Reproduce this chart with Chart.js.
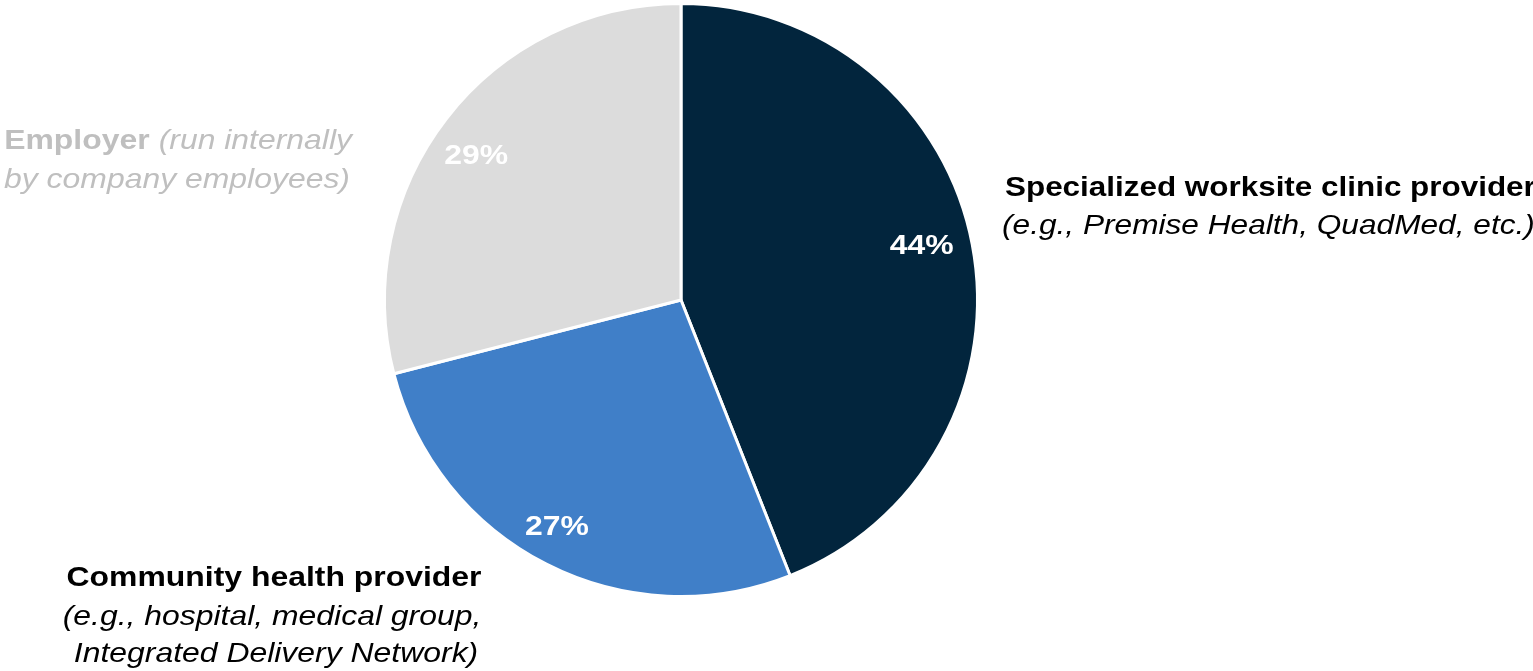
<!DOCTYPE html>
<html>
<head>
<meta charset="utf-8">
<script src="https://cdn.jsdelivr.net/npm/chart.js@4/dist/chart.umd.min.js"></script>
<style>
  html, body { margin: 0; padding: 0; background: #fff; }
  #wrap { width: 1533px; height: 671px; position: relative; }
</style>
</head>
<body>
<div id="wrap"><canvas id="grafico" width="1533" height="671"></canvas></div>
<script>
const categorias = ["Specialized worksite clinic provider", "Community health provider", "Employer"];
const valores = [44, 27, 29];
const colores = ["#02253D", "#407FC8", "#DCDCDC"];

// outside text for each slice: bold title + italic detail lines
const titulos = ["Specialized worksite clinic provider", "Community health provider", "Employer"];
const detalles = [
    ["(e.g., Premise Health, QuadMed, etc.)"],
    ["(e.g., hospital, medical group,", "Integrated Delivery Network)"],
    ["(run internally", "by company employees)"]
];

const FUENTE = '"Liberation Sans", Arial, sans-serif';
const ESTIRA = 1.14; // text is a bit wider than the plain font

function texto(ctx, t, x, y, escala = ESTIRA) {
    ctx.save();
    ctx.translate(x, y);
    ctx.scale(escala, 1);
    ctx.fillText(t, 0, 0);
    ctx.restore();
}

const etiquetasPlugin = {
    id: "etiquetas",
    afterDatasetsDraw(chart) {
        const ctx = chart.ctx;
        const arcs = chart.getDatasetMeta(0).data;
        // small nudges for the percentage labels
        const ajuste = [[-4, -7], [-11, 5], [-8, 9]];
        ctx.save();

        // percentages inside the slices
        ctx.font = "bold 28px " + FUENTE;
        ctx.fillStyle = "#ffffff";
        ctx.textAlign = "center";
        ctx.textBaseline = "middle";
        arcs.forEach((arc, i) => {
            const p = arc.getProps(["x", "y", "startAngle", "endAngle", "outerRadius"], true);
            const mid = (p.startAngle + p.endAngle) / 2;
            const r = p.outerRadius * 0.84;
            texto(ctx, valores[i] + "%", p.x + Math.cos(mid) * r + ajuste[i][0], p.y + Math.sin(mid) * r + ajuste[i][1]);
        });

        // specialized provider, right side
        ctx.textAlign = "left";
        ctx.fillStyle = "#000000";
        ctx.font = "bold 28px " + FUENTE;
        texto(ctx, titulos[0], 1005, 188, 1.122);
        ctx.font = "italic 28px " + FUENTE;
        texto(ctx, detalles[0][0], 1002, 226, 1.13);

        // community provider, bottom left
        ctx.textAlign = "center";
        ctx.font = "bold 28px " + FUENTE;
        texto(ctx, titulos[1], 274, 578);
        ctx.font = "italic 28px " + FUENTE;
        texto(ctx, detalles[1][0], 272, 617);
        texto(ctx, detalles[1][1], 276, 654);

        // employer, upper left (grey)
        ctx.fillStyle = "#BFBFBF";
        ctx.textAlign = "right";
        ctx.font = "italic 28px " + FUENTE;
        texto(ctx, detalles[2][0], 352, 141);
        const w = ctx.measureText(detalles[2][0]).width * ESTIRA;
        ctx.font = "bold 28px " + FUENTE;
        texto(ctx, titulos[2], 352 - w - 9, 141);
        ctx.font = "italic 28px " + FUENTE;
        texto(ctx, detalles[2][1], 350, 180);

        ctx.restore();
    }
};

const ctx = document.getElementById("grafico").getContext("2d");
new Chart(ctx, {
    type: "pie",
    data: {
        labels: categorias,
        datasets: [{
            data: valores,
            backgroundColor: colores,
            borderColor: "#ffffff",
            borderWidth: 3
        }]
    },
    options: {
        responsive: false,
        animation: false,
        layout: { padding: { left: 383, right: 554, top: 2, bottom: 73 } },
        plugins: {
            legend: { display: false },
            tooltip: { enabled: false }
        }
    },
    plugins: [etiquetasPlugin]
});
</script>
</body>
</html>
